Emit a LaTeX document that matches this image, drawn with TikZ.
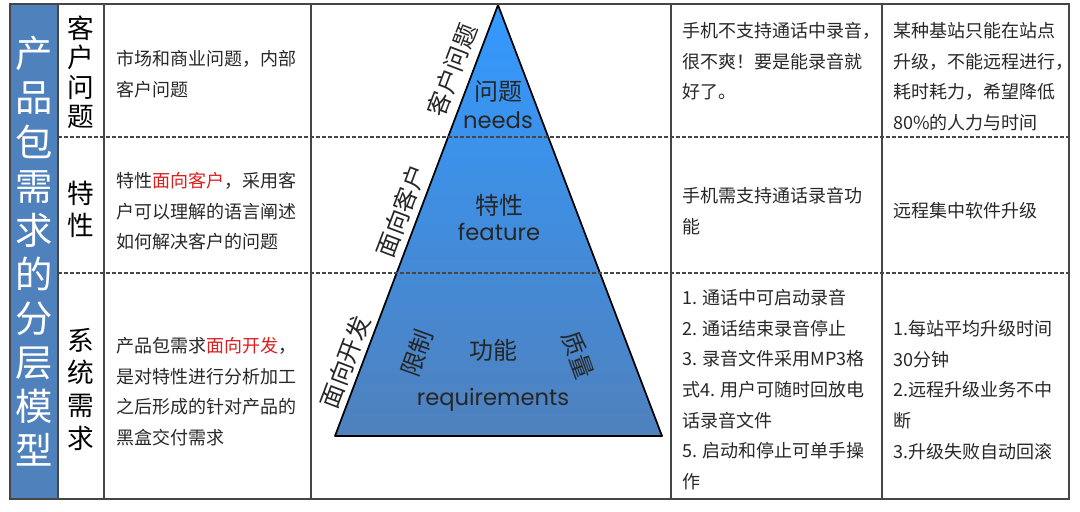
\documentclass[tikz,border=0pt]{standalone}
\usepackage{fontspec}
\setmainfont{Noto Sans CJK SC}
\newfontfamily\cjk{Noto Sans CJK SC}
\newfontfamily\geo{Poppins}
\definecolor{colblue}{RGB}{79,129,189}
\definecolor{tritop}{RGB}{51,153,255}
\definecolor{tribot}{RGB}{79,129,189}
\definecolor{framegray}{RGB}{70,70,70}
\definecolor{txtgray}{RGB}{40,40,40}
\definecolor{hired}{RGB}{220,30,30}
\begin{document}
\begin{tikzpicture}[x=0.75pt,y=-0.75pt,
  frameline/.style={draw=framegray,line width=1.5pt},
  gridline/.style={draw=framegray,line width=1.1pt},
  dashline/.style={draw=framegray,line width=0.8pt,dash pattern=on 3pt off 1.5pt},
  cell/.style={anchor=north west,inner sep=0pt,align=left,text=txtgray,
    font=\cjk\fontsize{13.5pt}{23pt}\selectfont},
  hdr/.style={inner sep=0pt,align=center,text=black},
  tri/.style={inner sep=0pt,text=black!85},
  tricn/.style={tri,font=\cjk\fontsize{18pt}{20pt}\selectfont},
  trien/.style={tri,font=\geo\fontsize{17pt}{19pt}\selectfont}]
\useasboundingbox (0,0) rectangle (1080,511);
\fill[white] (0,0) rectangle (1080,511);

% blue title column
\fill[colblue] (10,4) rectangle (58,499);
\node[hdr,text=white,font=\cjk\fontsize{28pt}{33.1pt}\selectfont] (title) at (34,251.5)
  {产\\品\\包\\需\\求\\的\\分\\层\\模\\型};

% triangle
\coordinate (apex) at (498,5);
\coordinate (bl) at (335,436);
\coordinate (br) at (662,436);
\shade[top color=tritop,bottom color=tribot] (apex) -- (bl) -- (br) -- cycle;
\draw[line width=1.3pt,line join=round] (apex) -- (bl) -- (br) -- cycle;

% grid
\draw[dashline] (58,137) -- (1069,137);
\draw[dashline] (58,273) -- (1069,273);
\draw[gridline] (104,4) -- (104,499);
\draw[gridline] (311,4) -- (311,499);
\draw[gridline] (671,4) -- (671,499);
\draw[gridline] (882,4) -- (882,499);
\draw[frameline] (58,4) -- (58,499);
\draw[frameline] (10,4) rectangle (1069,499);

% row headers
\node[hdr,font=\cjk\fontsize{20pt}{22.1pt}\selectfont] (h1) at (81,72) {客\\户\\问\\题};
\node[hdr,font=\cjk\fontsize{20pt}{24pt}\selectfont] (h2) at (81,209) {特\\性};
\node[hdr,font=\cjk\fontsize{20pt}{24.5pt}\selectfont] (h3) at (81,389) {系\\统\\需\\求};

% column 3
\node[cell] (c31) at (116,50) {市场和商业问题，内部\\客户问题};
\node[cell] (c32) at (116,172) {特性\textcolor{hired}{面向客户}，采用客\\户可以理解的语言阐述\\如何解决客户的问题};
\node[cell] (c33) at (116,337) {产品包需求\textcolor{hired}{面向开发}，\\是对特性进行分析加工\\之后形成的针对产品的\\黑盒交付需求};

% column 4
\node[cell] (c41) at (682,22) {手机不支持通话中录音，\\很不爽！要是能录音就\\好了。};
\node[cell] (c42) at (682,187) {手机需支持通话录音功\\能};
\node[cell] (c43) at (682,289) {1. 通话中可启动录音\\2. 通话结束录音停止\\3. 录音文件采用MP3格\\式4. 用户可随时回放电\\话录音文件\\5. 启动和停止可单手操\\作};

% column 5
\node[cell] (c51) at (893,22) {某种基站只能在站点\\升级，不能远程进行，\\耗时耗力，希望降低\\80\%的人力与时间};
\node[cell] (c52) at (893,202) {远程集中软件升级};
\node[cell] (c53) at (893,320) {1.每站平均升级时间\\30分钟\\2.远程升级业务不中\\断\\3.升级失败自动回滚};

% triangle labels
\node[tricn] (q1) at (498,92) {问题};
\node[trien] (q2) at (498,120) {needs};
\node[tricn] (f1) at (499,205) {特性};
\node[trien] (f2) at (499,232) {feature};
\node[tricn] (r1) at (493,350) {功能};
\node[trien] (r2) at (493,400) {requirements};
\node[tricn,rotate=70] (r3) at (417,353) {限制};
\node[tricn,rotate=-70] (r4) at (578,355) {质量};

% side labels
\node[tricn,rotate=69.3] (s1) at (452,70) {客户问题};
\node[tricn,rotate=69.3] (s2) at (401,211) {面向客户};
\node[tricn,rotate=69.3] (s3) at (345,362) {面向开发};
\end{tikzpicture}
\end{document}
